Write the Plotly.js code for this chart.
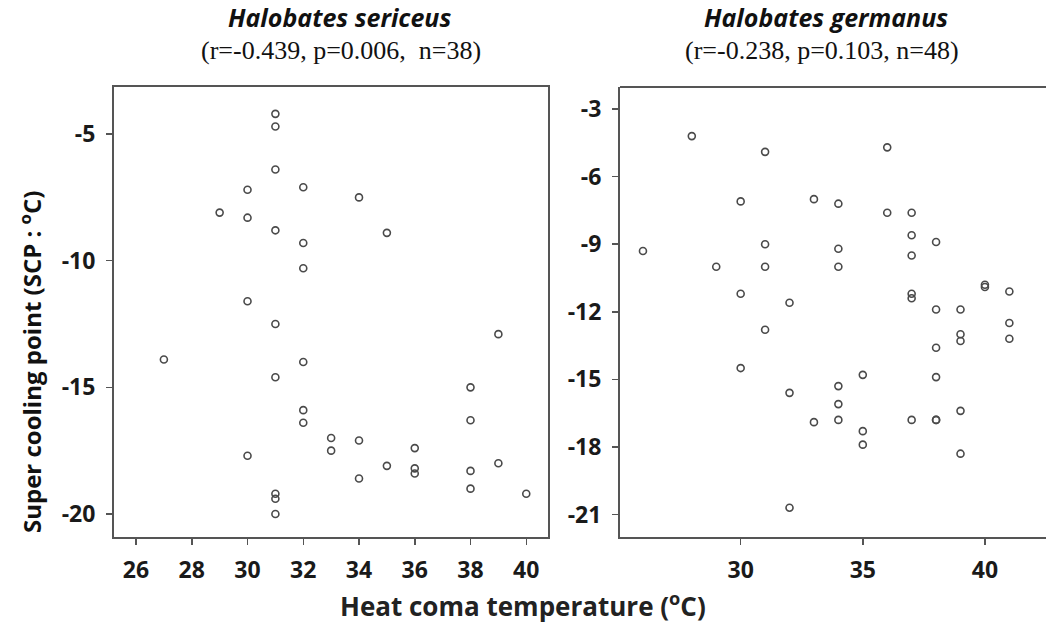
<!DOCTYPE html>
<html>
<head>
<meta charset="utf-8">
<script src="https://cdn.plot.ly/plotly-3.0.1.min.js"></script>
<style>html,body{margin:0;padding:0;background:#fff;}#chart{width:1046px;height:640px;}</style>
</head>
<body>
<div id="chart"></div>
<script>
// Halobates sericeus: heat coma temperature (°C) vs super cooling point (°C)
const sericeusHCT = [31,31,31,30,32,29,30,31,32,32,30,34,35,31,27,32,31,32,32,30,31,31,31,33,33,34,34,35,36,36,36,38,38,38,38,39,39,40];
const sericeusSCP = [-4.2,-4.7,-6.4,-7.2,-7.1,-8.1,-8.3,-8.8,-9.3,-10.3,-11.6,-7.5,-8.9,-12.5,-13.9,-14.0,-14.6,-15.9,-16.4,-17.7,-19.2,-19.4,-20.0,-17.0,-17.5,-17.1,-18.6,-18.1,-17.4,-18.2,-18.4,-15.0,-16.3,-18.3,-19.0,-12.9,-18.0,-19.2];

// Halobates germanus
const germanusHCT = [26,28,29,30,30,30,31,31,31,31,32,32,32,33,33,34,34,34,34,34,34,35,35,35,36,36,37,37,37,37,37,37,38,38,38,38,38,38,39,39,39,39,39,40,40,41,41,41];
const germanusSCP = [-9.3,-4.2,-10.0,-7.1,-11.2,-14.5,-4.9,-9.0,-10.0,-12.8,-11.6,-15.6,-20.7,-7.0,-16.9,-7.2,-9.2,-10.0,-15.3,-16.1,-16.8,-14.8,-17.3,-17.9,-4.7,-7.6,-7.6,-8.6,-9.5,-11.2,-11.4,-16.8,-8.9,-11.9,-13.6,-14.9,-16.8,-16.8,-11.9,-13.0,-13.3,-16.4,-18.3,-10.8,-10.9,-11.1,-12.5,-13.2];

// Tick labels
const leftXTicks = [26,28,30,32,34,36,38,40];
const leftYTicks = [-5,-10,-15,-20];
const rightXTicks = [30,35,40];
const rightYTicks = [-3,-6,-9,-12,-15,-18,-21];

const titles = ['<b><i>Halobates sericeus</i></b>','<b><i>Halobates germanus</i></b>'];
const stats = ['(r=-0.439, p=0.006,  n=38)','(r=-0.238, p=0.103, n=48)'];

const W = 1046, H = 640;
const px = v => v / W;
const py = v => 1 - v / H;
const bold = arr => arr.map(v => '<b>' + v + '</b>');

const marker = {symbol:'circle-open', size:7, color:'#4a4a4a', line:{width:1.6, color:'#4a4a4a'}};

const traces = [
  {x: sericeusHCT, y: sericeusSCP, type:'scatter', mode:'markers', marker: marker, xaxis:'x', yaxis:'y', hoverinfo:'x+y'},
  {x: germanusHCT, y: germanusSCP, type:'scatter', mode:'markers', marker: marker, xaxis:'x2', yaxis:'y2', hoverinfo:'x+y'}
];

const sans = '"Open Sans", Lato, sans-serif';
const tickFont = {family: sans, size:23, color:'#1a1a1a'};
const axisBase = {
  showline:true, linecolor:'#555', linewidth:2, ticks:'outside', ticklen:6, tickwidth:1.5, tickcolor:'#555',
  showgrid:false, zeroline:false, tickfont: tickFont, tickmode:'array', fixedrange:true
};

const leftDomX = [px(114), px(548)];
const rightDomX = [px(620), 1];
const domY = [py(537), py(87)];

const layout = {
  width: W, height: H,
  margin:{l:0, r:0, t:0, b:0, pad:0},
  paper_bgcolor:'#fff', plot_bgcolor:'#fff',
  showlegend:false,
  xaxis: Object.assign({}, axisBase, {domain:leftDomX, range:[25.21, 40.78], tickvals:leftXTicks, ticktext:bold(leftXTicks), mirror:true, anchor:'y', ticklabelstandoff:5}),
  yaxis: Object.assign({}, axisBase, {domain:domY, range:[-20.91, -3.14], tickvals:leftYTicks, ticktext:bold(leftYTicks), mirror:true, anchor:'x', ticklabelstandoff:6}),
  xaxis2: Object.assign({}, axisBase, {domain:rightDomX, range:[25.06, 42.5], tickvals:rightXTicks, ticktext:bold(rightXTicks), anchor:'y2', ticklabelstandoff:5}),
  yaxis2: Object.assign({}, axisBase, {domain:domY, range:[-22.0, -2.02], tickvals:rightYTicks, ticktext:bold(rightYTicks), anchor:'x2', ticklabelstandoff:6}),
  shapes: [
    {type:'line', xref:'paper', yref:'paper', x0:px(620), x1:1, y0:domY[1], y1:domY[1], line:{color:'#555', width:2}}
  ],
  annotations: [
    {text: titles[0], xref:'paper', yref:'paper', x:px(339), y:py(17), showarrow:false, xanchor:'center', yanchor:'middle', font:{family:sans, size:25, color:'#111'}},
    {text: stats[0], xref:'paper', yref:'paper', x:px(341), y:py(50), showarrow:false, xanchor:'center', yanchor:'middle', font:{family:'"Liberation Serif", "Times New Roman", serif', size:26, color:'#111'}},
    {text: titles[1], xref:'paper', yref:'paper', x:px(826), y:py(17), showarrow:false, xanchor:'center', yanchor:'middle', font:{family:sans, size:25, color:'#111'}},
    {text: stats[1], xref:'paper', yref:'paper', x:px(822), y:py(50), showarrow:false, xanchor:'center', yanchor:'middle', font:{family:'"Liberation Serif", "Times New Roman", serif', size:26, color:'#111'}},
    {text: '<b>Super cooling point (SCP : <sup>o</sup>C)</b>', xref:'paper', yref:'paper', x:px(30), y:py(362), textangle:-90, showarrow:false, xanchor:'center', yanchor:'middle', font:{family:sans, size:24, color:'#111'}},
    {text: '<b>Heat coma temperature (<sup>o</sup>C)</b>', xref:'paper', yref:'paper', x:px(523), y:py(605), showarrow:false, xanchor:'center', yanchor:'middle', font:{family:sans, size:26, color:'#222'}}
  ]
};

Plotly.newPlot('chart', traces, layout, {displayModeBar:false, staticPlot:true});
</script>
</body>
</html>
